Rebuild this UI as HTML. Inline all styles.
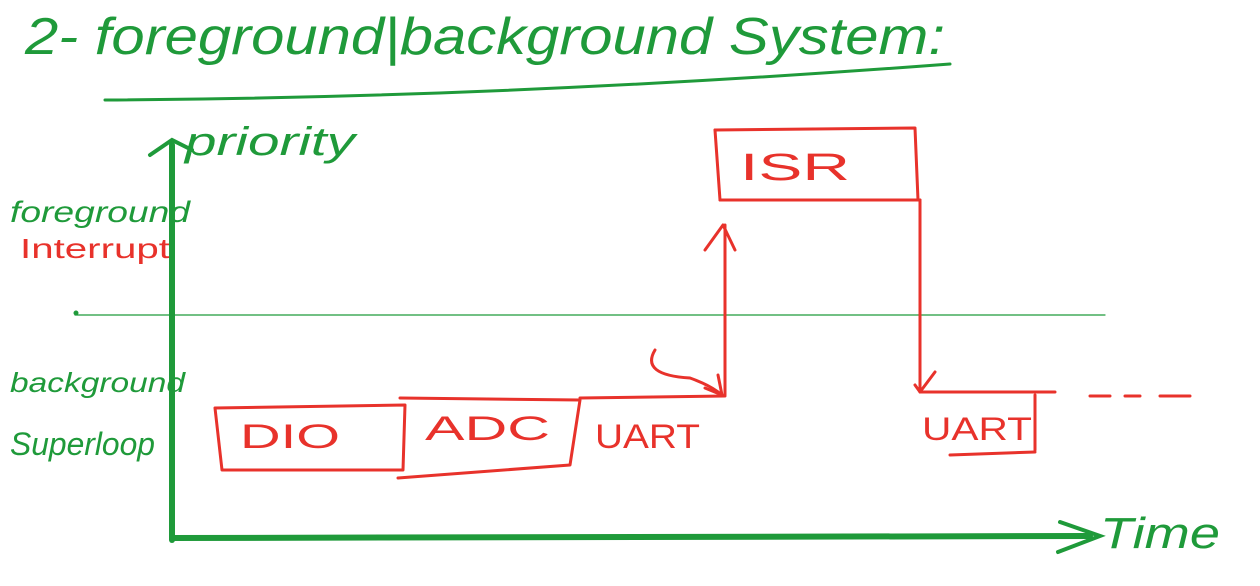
<!DOCTYPE html>
<html><head><meta charset="utf-8"><style>
html,body{margin:0;padding:0;background:#fff;}
svg{display:block}
text{font-family:"Liberation Sans",sans-serif;}
</style></head><body>
<svg width="1260" height="586" viewBox="0 0 1260 586" xmlns="http://www.w3.org/2000/svg">
<rect width="1260" height="586" fill="#fff"/>
<g fill="#1f9a3a" font-style="italic">
<text x="25" y="54" font-size="52" textLength="920" lengthAdjust="spacingAndGlyphs">2- foreground|background System:</text>
<text x="185" y="155" font-size="40" textLength="170" lengthAdjust="spacingAndGlyphs">priority</text>
<text x="10" y="222" font-size="30" textLength="180" lengthAdjust="spacingAndGlyphs">foreground</text>
<text x="10" y="392" font-size="28" textLength="175" lengthAdjust="spacingAndGlyphs">background</text>
<text x="10" y="455" font-size="32" textLength="145" lengthAdjust="spacingAndGlyphs">Superloop</text>
<text x="1100" y="548" font-size="44" textLength="120" lengthAdjust="spacingAndGlyphs">Time</text>
</g>
<g fill="#e8322b">
<text x="20" y="258" font-size="28" textLength="150" lengthAdjust="spacingAndGlyphs">Interrupt</text>
<text x="240" y="448" font-size="34" textLength="100" lengthAdjust="spacingAndGlyphs">DIO</text>
<text x="425" y="440" font-size="34" textLength="125" lengthAdjust="spacingAndGlyphs">ADC</text>
<text x="595" y="448" font-size="34" textLength="105" lengthAdjust="spacingAndGlyphs">UART</text>
<text x="740" y="180" font-size="38" textLength="110" lengthAdjust="spacingAndGlyphs">ISR</text>
<text x="922" y="440" font-size="32" textLength="110" lengthAdjust="spacingAndGlyphs">UART</text>
</g>
<g stroke="#1f9a3a" fill="none" stroke-linecap="round">
<path d="M105 100 Q500 98 950 64" stroke-width="3"/>
<line x1="172" y1="145" x2="172" y2="540" stroke-width="6"/>
<path d="M150 155 L172 140 L192 150" stroke-width="4"/>
<line x1="172" y1="538" x2="1090" y2="536" stroke-width="6"/>
<path d="M1060 522 L1100 536 L1058 552" stroke-width="4"/>
<line x1="75" y1="315" x2="1105" y2="315" stroke-width="1.2"/>
<circle cx="76" cy="313" r="2" fill="#1f9a3a"/>
</g>
<g stroke="#e8322b" fill="none" stroke-width="3" stroke-linecap="round" stroke-linejoin="round">
<path d="M215 408 L405 405 L403 470 L222 470 Z"/>
<path d="M400 398 L580 400 L570 465 L398 478"/>
<line x1="580" y1="398" x2="725" y2="396"/>
<path d="M655 350 Q640 375 690 378 Q710 385 722 395"/>
<path d="M705 388 L722 395 L718 375"/>
<line x1="725" y1="395" x2="725" y2="225"/>
<path d="M705 250 L723 225 L735 250"/>
<path d="M715 130 L915 128 L918 200"/>
<line x1="715" y1="130" x2="720" y2="200"/>
<line x1="720" y1="200" x2="920" y2="200"/>
<line x1="920" y1="200" x2="920" y2="390"/>
<path d="M915 385 L920 392 L935 372"/>
<line x1="920" y1="392" x2="1055" y2="392"/>
<line x1="1035" y1="395" x2="1035" y2="450"/>
<line x1="950" y1="455" x2="1035" y2="452"/>
<path d="M1090 396 L1110 396 M1125 396 L1140 396 M1160 396 L1190 396"/>
</g>
</svg>
</body></html>
